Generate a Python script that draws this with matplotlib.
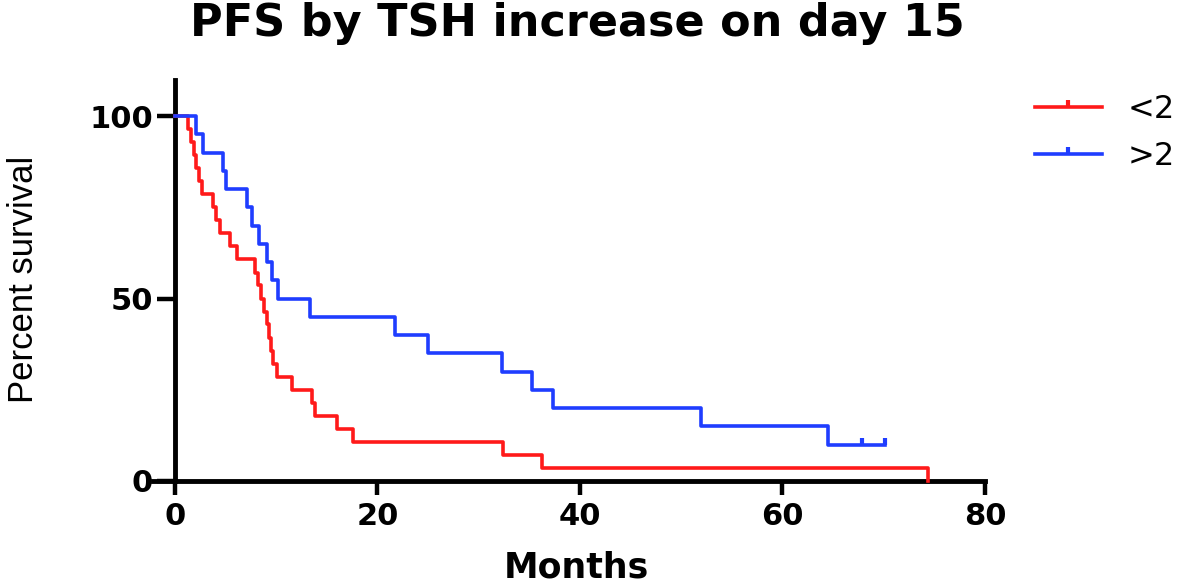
import matplotlib
matplotlib.use("Agg")
import matplotlib.pyplot as plt
from matplotlib import font_manager
from matplotlib.lines import Line2D
import numpy as np

# Kaplan-Meier steps (months, percent surviving after the event)
red_times = [1.3, 1.6, 1.9, 2.1, 2.4, 2.7, 3.75, 4.05, 4.4, 5.4, 6.1,
             7.9, 8.2, 8.5, 8.8, 9.1, 9.3, 9.5, 9.7, 10.1, 11.6,
             13.5, 13.8, 16.0, 17.6, 32.4, 36.2, 74.4]
red_surv = [96.4, 92.9, 89.3, 85.7, 82.1, 78.6, 75.0, 71.4, 67.9, 64.3, 60.7,
            57.1, 53.6, 50.0, 46.4, 42.9, 39.3, 35.7, 32.1, 28.6, 25.0,
            21.4, 17.9, 14.3, 10.7, 7.1, 3.6, 0.0]

blue_times = [2.1, 2.8, 4.7, 5.0, 7.1, 7.6, 8.3, 9.1, 9.6, 10.2,
              13.3, 21.7, 25.0, 32.3, 35.3, 37.3, 52.0, 64.5]
blue_surv = [95, 90, 85, 80, 75, 70, 65, 60, 55, 50,
             45, 40, 35, 30, 25, 20, 15, 10]
blue_censor = [67.9, 70.1]

labels = ["<2", ">2"]
colors = ["#ff1a1a", "#1f3dff"]
x_ticks = [0, 20, 40, 60, 80]
y_ticks = [0, 50, 100]


def has_font(name):
    try:
        font_manager.findfont(name, fallback_to_default=False)
        return True
    except ValueError:
        return False


if has_font("Liberation Sans"):
    ylab_family, ylab_size = "Liberation Sans", 25
else:
    ylab_family, ylab_size = "DejaVu Sans", 23

plt.rcParams["font.family"] = ["DejaVu Sans"]

fig = plt.figure(figsize=(11.81, 5.82), dpi=100)
ax = fig.add_axes([152.7 / 1181, 101 / 582, 832.3 / 1181, 401.5 / 582])

# red group
x = np.r_[0, red_times]
y = np.r_[100, red_surv]
ax.step(x, y, where="post", color=colors[0], lw=2.6, zorder=4, clip_on=False)

# blue group, runs on to the last censored time
x = np.r_[0, blue_times, blue_censor[-1]]
y = np.r_[100, blue_surv, blue_surv[-1]]
ax.step(x, y, where="post", color=colors[1], lw=2.6, zorder=4, clip_on=False)
ax.plot(blue_censor, [blue_surv[-1]] * len(blue_censor), linestyle="none",
        marker=2, markersize=5, markeredgewidth=3, color=colors[1], zorder=4, clip_on=False)

ax.set_xlim(-2.2, 80)
ax.set_ylim(0, 110)
ax.spines["top"].set_visible(False)
ax.spines["right"].set_visible(False)
ax.spines["left"].set_position(("data", 0))
for s in ["left", "bottom"]:
    ax.spines[s].set_linewidth(3.5)
ax.set_xticks(x_ticks)
ax.set_yticks(y_ticks)
ax.tick_params(axis="y", direction="out", length=13, width=3.2, pad=3,
               labelsize=22)
ax.tick_params(axis="x", direction="out", length=10, width=3.2, pad=5,
               labelsize=22)
for t in ax.get_xticklabels() + ax.get_yticklabels():
    t.set_fontweight("bold")

fig.text(577 / 1181, 1 - 36 / 582, "PFS by TSH increase on day 15",
         ha="center", va="baseline", fontsize=32, fontweight="bold")
fig.text(576 / 1181, 1 - 577 / 582, "Months",
         ha="center", va="baseline", fontsize=25, fontweight="bold")
fig.text(24 / 1181, 1 - 279 / 582, "Percent survival", rotation=90,
         ha="center", va="center", fontsize=ylab_size, family=ylab_family)

handles = [Line2D([], [], color=c, lw=2.6, marker=2, markersize=5,
                  markeredgewidth=3) for c in colors]
fig.legend(handles, labels, loc="upper left",
           bbox_to_anchor=(1022 / 1181, 1 - 81 / 582), frameon=False,
           fontsize=23, handlelength=2.1, handletextpad=0.8,
           labelspacing=0.5, borderaxespad=0)

fig.savefig("out.png", dpi=100)
